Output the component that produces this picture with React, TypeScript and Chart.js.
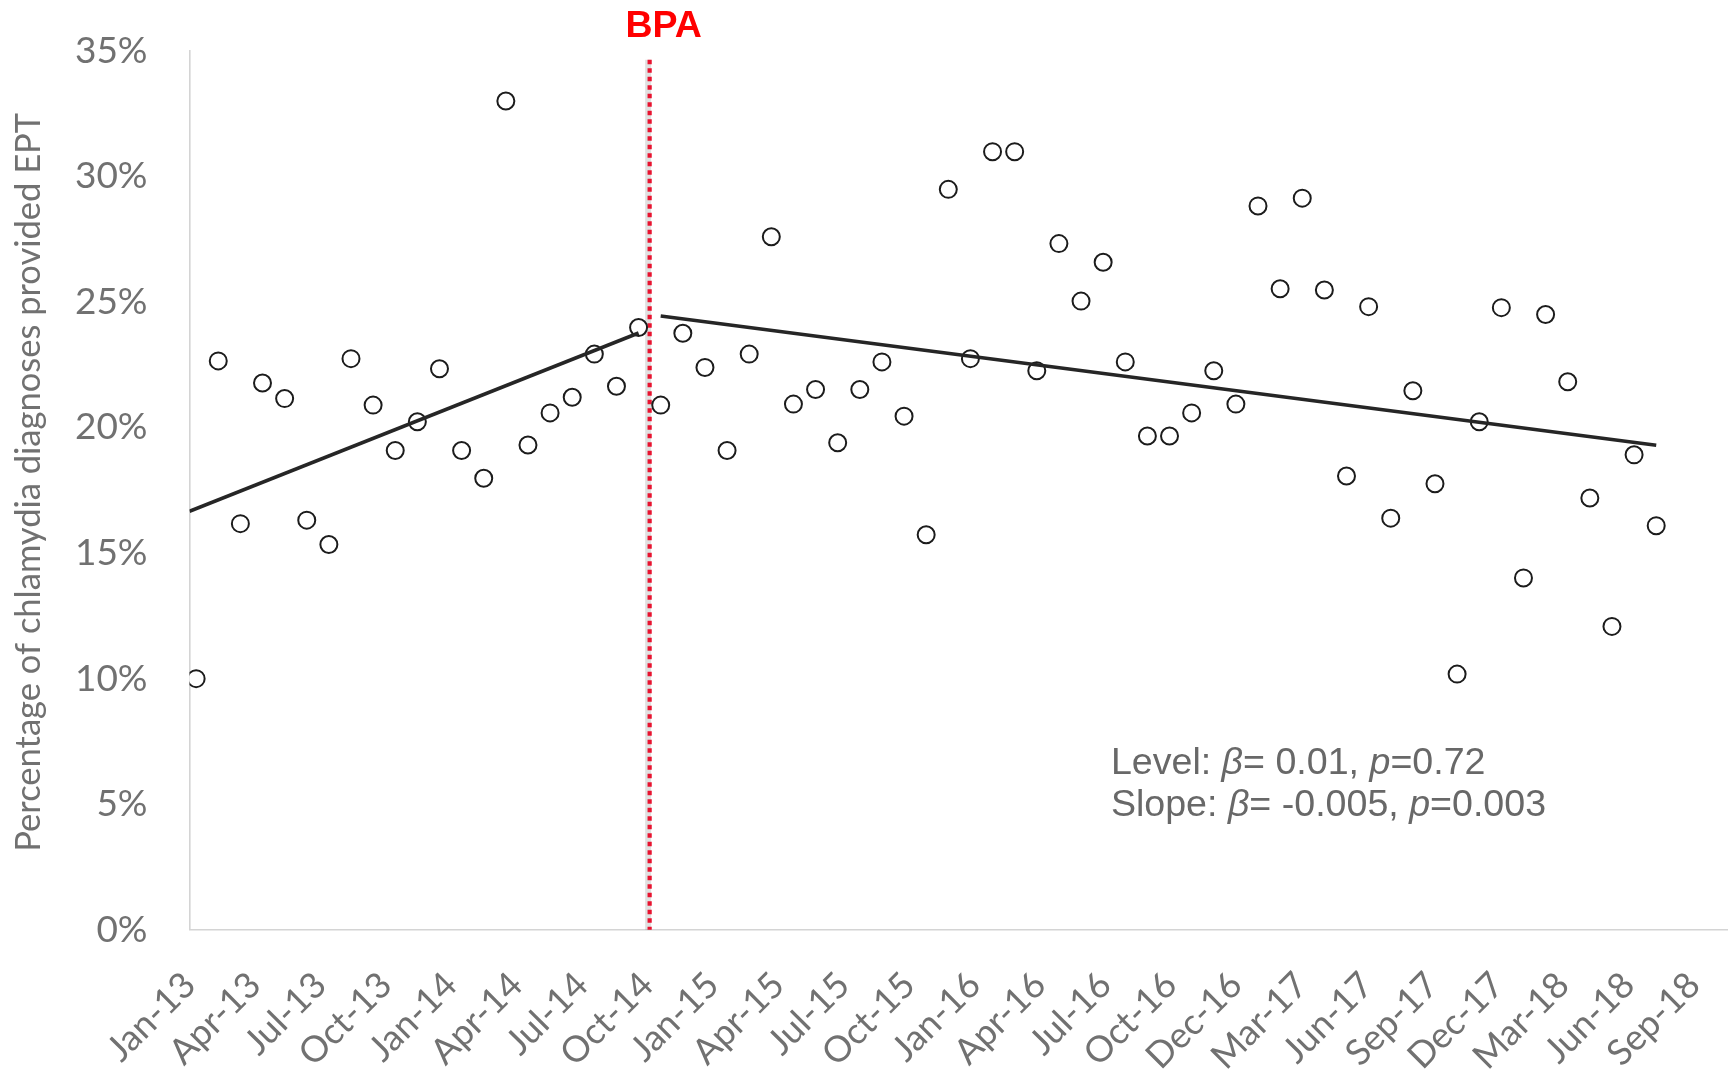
import React, { useEffect, useRef } from "react";
import { Chart, registerables } from "chart.js";

Chart.register(...registerables);

// ---------- data ----------
const pointMonths = [
  "Jan-13", "Feb-13", "Mar-13", "Apr-13", "May-13", "Jun-13", "Jul-13", "Aug-13", "Sep-13", "Oct-13", "Nov-13", "Dec-13",
  "Jan-14", "Feb-14", "Mar-14", "Apr-14", "May-14", "Jun-14", "Jul-14", "Aug-14", "Sep-14", "Oct-14", "Nov-14", "Dec-14",
  "Jan-15", "Feb-15", "Mar-15", "Apr-15", "May-15", "Jun-15", "Jul-15", "Aug-15", "Sep-15", "Oct-15", "Nov-15", "Dec-15",
  "Jan-16", "Feb-16", "Mar-16", "Apr-16", "May-16", "Jun-16", "Jul-16", "Aug-16", "Sep-16", "Oct-16", "Nov-16", "Dec-16",
  "Jan-17", "Feb-17", "Mar-17", "Apr-17", "May-17", "Jun-17", "Jul-17", "Aug-17", "Sep-17", "Oct-17", "Nov-17", "Dec-17",
  "Jan-18", "Feb-18", "Mar-18", "Apr-18", "May-18", "Jun-18", "Jul-18",
];

// Percentage of chlamydia diagnoses provided EPT (%), one per month
const eptPercent = [
  10.0, 22.65, 16.17, 21.77, 21.15, 16.31, 15.34, 22.74, 20.89, 19.08, 20.23, 22.34,
  19.08, 17.98, 33.0, 19.3, 20.58, 21.2, 22.92, 21.64, 23.98, 20.89, 23.75, 22.39,
  19.08, 22.92, 27.59, 20.93, 21.51, 19.39, 21.51, 22.61, 20.45, 15.73, 29.48, 22.74,
  30.98, 30.98, 22.26, 27.32, 25.03, 26.58, 22.61, 19.66, 19.66, 20.58, 22.26, 20.93,
  28.82, 25.52, 29.13, 25.47, 18.07, 24.81, 16.39, 21.46, 17.76, 10.18, 20.23, 24.77,
  14.01, 24.5, 21.82, 17.19, 12.08, 18.91, 16.09,
];

// Segmented regression fitted lines (month index, %)
const preTrendX = [-0.3, 20];
const preTrendY = [16.66, 23.76];
const postTrendX = [21, 66];
const postTrendY = [24.44, 19.29];

// BPA implementation (month index)
const bpaIndex = 20.5;
const bpaLabel = "BPA";

// x-axis tick labels (date axis, one label every 90 days)
const tickLabels = [
  "Jan-13", "Apr-13", "Jul-13", "Oct-13", "Jan-14", "Apr-14", "Jul-14", "Oct-14",
  "Jan-15", "Apr-15", "Jul-15", "Oct-15", "Jan-16", "Apr-16", "Jul-16", "Oct-16",
  "Dec-16", "Mar-17", "Jun-17", "Sep-17", "Dec-17", "Mar-18", "Jun-18", "Sep-18",
];
const tickOrigin = -0.3; // axis starts a few days before the first monthly point
const tickStepMonths = 90 / 30.4375; // 90-day major unit, in months

const yTicks = [0, 5, 10, 15, 20, 25, 30, 35];
const yTitle = "Percentage of chlamydia diagnoses provided EPT";

// annotation text (segments: [text, italic])
const annotationLines: [string, boolean][][] = [
  [["Level: ", false], ["β", true], ["= 0.01, ", false], ["p", true], ["=0.72", false]],
  [["Slope: ", false], ["β", true], ["= -0.005, ", false], ["p", true], ["=0.003", false]],
];

// ---------- component ----------
const W = 1733;
const H = 1077;
const TICK_COLOR = "#717171";

const overlayPlugin = {
  id: "overlay",
  beforeDatasetsDraw(chart: any) {
    const { ctx, chartArea, scales } = chart;
    const px = scales.x.getPixelForValue(bpaIndex);
    const top = chartArea.top + 9;
    ctx.save();
    ctx.strokeStyle = "rgba(0,0,0,0.12)";
    ctx.lineWidth = 6;
    ctx.beginPath();
    ctx.moveTo(px - 1.5, top);
    ctx.lineTo(px - 1.5, chartArea.bottom);
    ctx.stroke();
    ctx.strokeStyle = "#e8132f";
    ctx.lineWidth = 4.2;
    ctx.setLineDash([4.5, 4]);
    ctx.beginPath();
    ctx.moveTo(px, top);
    ctx.lineTo(px, chartArea.bottom);
    ctx.stroke();
    ctx.restore();
  },
  afterDraw(chart: any) {
    const { ctx, chartArea, scales } = chart;
    const px = scales.x.getPixelForValue(bpaIndex);
    ctx.save();
    // BPA label
    ctx.fillStyle = "#ff0000";
    ctx.font = 'bold 37.5px "Liberation Sans", Arial, sans-serif';
    ctx.textAlign = "center";
    ctx.textBaseline = "alphabetic";
    ctx.fillText(bpaLabel, px + 14, chartArea.top - 13.5);

    // y-axis title
    ctx.save();
    ctx.translate(28.7, (chartArea.top + chartArea.bottom) / 2 - 8);
    ctx.rotate(-Math.PI / 2);
    ctx.fillStyle = TICK_COLOR;
    ctx.font = '34.5px Lato, "Open Sans", sans-serif';
    ctx.textAlign = "center";
    ctx.textBaseline = "middle";
    ctx.fillText(yTitle, 0, 0);
    ctx.restore();

    // annotation
    const ax = scales.x.getPixelForValue(41.35);
    let ay = scales.y.getPixelForValue(6.22);
    ctx.fillStyle = "#686868";
    ctx.textAlign = "left";
    for (const line of annotationLines) {
      let x = ax;
      for (const [t, it] of line) {
        ctx.font = (it ? "italic " : "") + '37.6px "Liberation Sans", Arial, sans-serif';
        ctx.fillText(t, x, ay);
        x += ctx.measureText(t).width;
      }
      ay += 42.5;
    }
    ctx.restore();
  },
};

export default function App() {
  const ref = useRef<HTMLCanvasElement | null>(null);

  useEffect(() => {
    if (!ref.current) return;
    const points = eptPercent.map((v, i) => ({ x: i, y: v, month: pointMonths[i] }));
    const pre = preTrendX.map((x, i) => ({ x, y: preTrendY[i] }));
    const post = postTrendX.map((x, i) => ({ x, y: postTrendY[i] }));

    const axisColor = "#d4d4d4";

    const chart = new Chart(ref.current, {
      type: "scatter",
      data: {
        datasets: [
          {
            type: "line",
            data: pre,
            borderColor: "#262626",
            borderWidth: 3.6,
            pointRadius: 0,
            fill: false,
            order: 0,
          } as any,
          {
            type: "line",
            data: post,
            borderColor: "#262626",
            borderWidth: 3.6,
            pointRadius: 0,
            fill: false,
            order: 0,
          } as any,
          {
            type: "scatter",
            data: points,
            pointRadius: 8.5,
            pointHoverRadius: 8.5,
            pointBorderWidth: 2,
            pointBorderColor: "#1c1c1c",
            pointBackgroundColor: "#ffffff",
            order: 1,
          } as any,
        ],
      },
      plugins: [overlayPlugin],
      options: {
        responsive: false,
        animation: false,
        devicePixelRatio: 1,
        layout: { autoPadding: false, padding: { top: 50.7, right: 6, bottom: 0, left: 0 } },
        plugins: { legend: { display: false }, tooltip: { enabled: false } },
        scales: {
          x: {
            type: "linear",
            min: -0.3,
            max: 69.2,
            bounds: "data",
            grid: { display: false },
            border: { display: true, color: axisColor, width: 1.6 },
            afterBuildTicks: (s: any) => {
              s.ticks = tickLabels.map((_, i) => ({ value: tickOrigin + i * tickStepMonths }));
            },
            afterFit: (s: any) => {
              s.height = H - 929.8;
              s.paddingLeft = 0;
              s.paddingRight = 0;
            },
            ticks: {
              autoSkip: false,
              maxRotation: 45,
              minRotation: 45,
              padding: 26,
              color: TICK_COLOR,
              font: { family: "Lato", size: 36 },
              callback: (_v: any, i: number) => tickLabels[i],
            },
          } as any,
          y: {
            min: 0,
            max: 35,
            grid: { display: false },
            border: { display: true, color: axisColor, width: 1.6 },
            afterBuildTicks: (s: any) => {
              s.ticks = yTicks.map((v) => ({ value: v }));
            },
            afterFit: (s: any) => {
              s.width = 189.5;
              s.paddingTop = 0;
              s.paddingBottom = 0;
            },
            ticks: {
              padding: 34,
              color: TICK_COLOR,
              font: { family: "Lato", size: 37 },
              callback: (v: any) => v + "%",
            },
          } as any,
        },
      },
    });
    return () => chart.destroy();
  }, []);

  return (
    <div style={{ position: "fixed", left: 0, top: 0, width: W, height: H, background: "#fff" }}>
      <canvas ref={ref} width={W} height={H} style={{ display: "block", width: W, height: H }} />
    </div>
  );
}
